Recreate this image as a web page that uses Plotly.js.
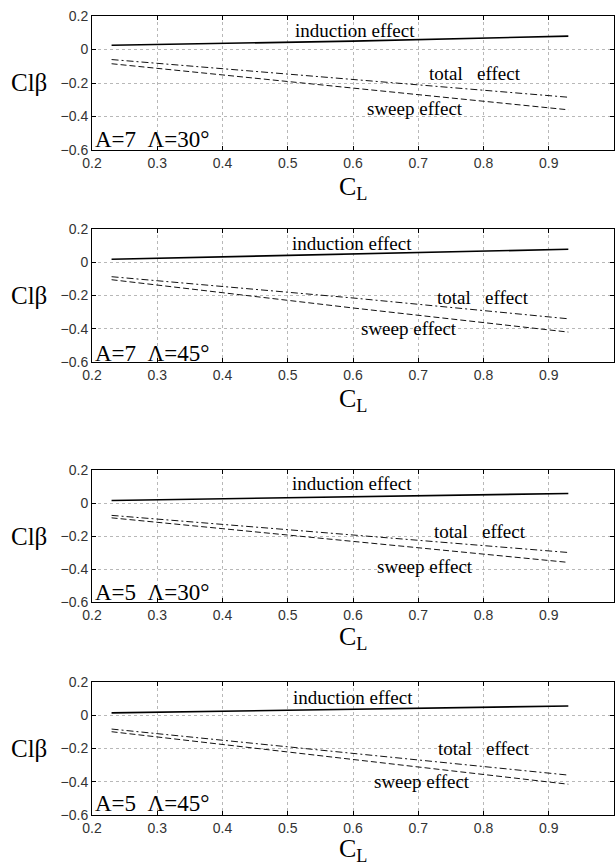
<!DOCTYPE html>
<html><head><meta charset="utf-8">
<script src="https://cdn.plot.ly/plotly-3.0.1.min.js"></script>
<style>html,body{margin:0;padding:0;background:#fff}#chart{width:616px;height:867px}</style>
</head><body><div id="chart"></div>
<script>
// C_L sample points
const cl = [0.23, 0.6, 0.93];

// Panel 1: A=7, Λ=30°
const induction1 = [0.025, 0.050, 0.080];
const total1     = [-0.060, -0.180, -0.285];
const sweep1     = [-0.085, -0.230, -0.360];
// Panel 2: A=7, Λ=45°
const induction2 = [0.018, 0.050, 0.078];
const total2     = [-0.087, -0.215, -0.340];
const sweep2     = [-0.105, -0.275, -0.420];
// Panel 3: A=5, Λ=30°
const induction3 = [0.015, 0.038, 0.058];
const total3     = [-0.075, -0.195, -0.300];
const sweep3     = [-0.090, -0.235, -0.360];
// Panel 4: A=5, Λ=45°
const induction4 = [0.014, 0.036, 0.056];
const total4     = [-0.083, -0.230, -0.360];
const sweep4     = [-0.099, -0.265, -0.415];

const panelLabels = ['A=7  Λ=30°', 'A=7  Λ=45°', 'A=5  Λ=30°', 'A=5  Λ=45°'];
const seriesNames = ['induction effect', 'total   effect', 'sweep effect'];
const xTickVals = [0.2, 0.3, 0.4, 0.5, 0.6, 0.7, 0.8, 0.9, 1.0];
const xTickText = ['0.2', '0.3', '0.4', '0.5', '0.6', '0.7', '0.8', '0.9', '1'];
const yTickVals = [-0.6, -0.4, -0.2, 0, 0.2];
const yTickText = ['\u22120.6', '\u22120.4', '\u22120.2', '0', '0.2'];

// label positions (data coords) for [induction, total, sweep]
const labelX = [[0.603, 0.787, 0.695], [0.598, 0.799, 0.686], [0.598, 0.794, 0.711], [0.600, 0.800, 0.705]];
const labelY = [[0.116, -0.146, -0.352], [0.111, -0.211, -0.400], [0.116, -0.174, -0.383], [0.107, -0.200, -0.398]];
const panelY = [-0.54, -0.547, -0.544, -0.53];

const panels = [
  [induction1, total1, sweep1],
  [induction2, total2, sweep2],
  [induction3, total3, sweep3],
  [induction4, total4, sweep4]
];

// layout geometry (pixels)
const W = 616, H = 867, mt = 16, mb = 52, ml = 92, mr = 2;
const ph = H - mt - mb;
const tops = [16, 229, 470, 682];
const bottoms = [150, 362, 602, 815];
const clOffset = [38, 38, 36, 35];

const serif = 'Liberation Serif, Times New Roman, serif';
const traces = [];
const annotations = [];
const layout = {
  width: W, height: H,
  margin: {l: ml, r: mr, t: mt, b: mb},
  paper_bgcolor: '#fff', plot_bgcolor: '#fff',
  showlegend: false,
  font: {family: 'Liberation Sans, Arial, sans-serif', color: '#222', size: 13}
};

const styles = [
  {color: '#000', width: 1.6, dash: 'solid'},
  {color: '#111', width: 1, dash: '7px,3px,2px,3px'},
  {color: '#111', width: 1, dash: '6px,3px'}
];

panels.forEach((p, i) => {
  const n = i + 1;
  const xa = 'x' + (n === 1 ? '' : n), ya = 'y' + (n === 1 ? '' : n);
  const xk = 'xaxis' + (n === 1 ? '' : n), yk = 'yaxis' + (n === 1 ? '' : n);
  p.forEach((vals, s) => {
    traces.push({x: cl, y: vals, xaxis: xa, yaxis: ya, type: 'scatter', mode: 'lines',
      line: styles[s], hoverinfo: 'skip'});
    annotations.push({xref: xa, yref: ya, x: labelX[i][s], y: labelY[i][s], text: seriesNames[s],
      showarrow: false, font: {family: serif, size: 19, color: '#000'}});
  });
  annotations.push({xref: xa, yref: ya, x: 0.2, y: panelY[i], xanchor: 'left', xshift: 1,
    text: panelLabels[i], showarrow: false,
    font: {family: serif, size: 23, color: '#000'}});
  const d0 = (H - mb - bottoms[i]) / ph, d1 = (H - mb - tops[i]) / ph;
  layout[xk] = {
    domain: [0, 1], anchor: ya, range: [0.2, 1.0],
    tickvals: xTickVals, ticktext: xTickText,
    ticks: 'inside', ticklen: 4, tickcolor: '#000', mirror: 'ticks',
    showline: true, linecolor: '#000', linewidth: 1,
    showgrid: true, gridcolor: '#b8b8b8', griddash: 'dot', gridwidth: 1,
    zeroline: false, tickfont: {size: 14, color: '#333'}
  };
  layout[yk] = {
    domain: [d0, d1], anchor: xa, range: [-0.6, 0.2],
    tickvals: yTickVals, ticktext: yTickText,
    ticks: 'inside', ticklen: 4, tickcolor: '#000', mirror: 'ticks',
    showline: true, linecolor: '#000', linewidth: 1,
    showgrid: true, gridcolor: '#b8b8b8', griddash: 'dot', gridwidth: 1,
    zeroline: false, tickfont: {size: 14, color: '#333'}
  };
  // x title CL
  annotations.push({xref: 'paper', yref: 'paper', x: 0.5, y: (H - mb - (bottoms[i] + clOffset[i])) / ph,
    yanchor: 'middle', text: 'C<sub>L</sub>', showarrow: false,
    font: {family: serif, size: 26, color: '#000'}});
  // y title Clβ
  annotations.push({xref: 'paper', yref: 'paper', x: (29 - ml) / (W - ml - mr),
    y: (H - mb - (tops[i] + bottoms[i]) / 2) / ph, yanchor: 'middle', xanchor: 'center',
    text: 'Clβ', showarrow: false,
    font: {family: serif, size: 25, color: '#000'}});
});
layout.annotations = annotations;

Plotly.newPlot('chart', traces, layout, {staticPlot: true, displayModeBar: false});
</script>
</body></html>
